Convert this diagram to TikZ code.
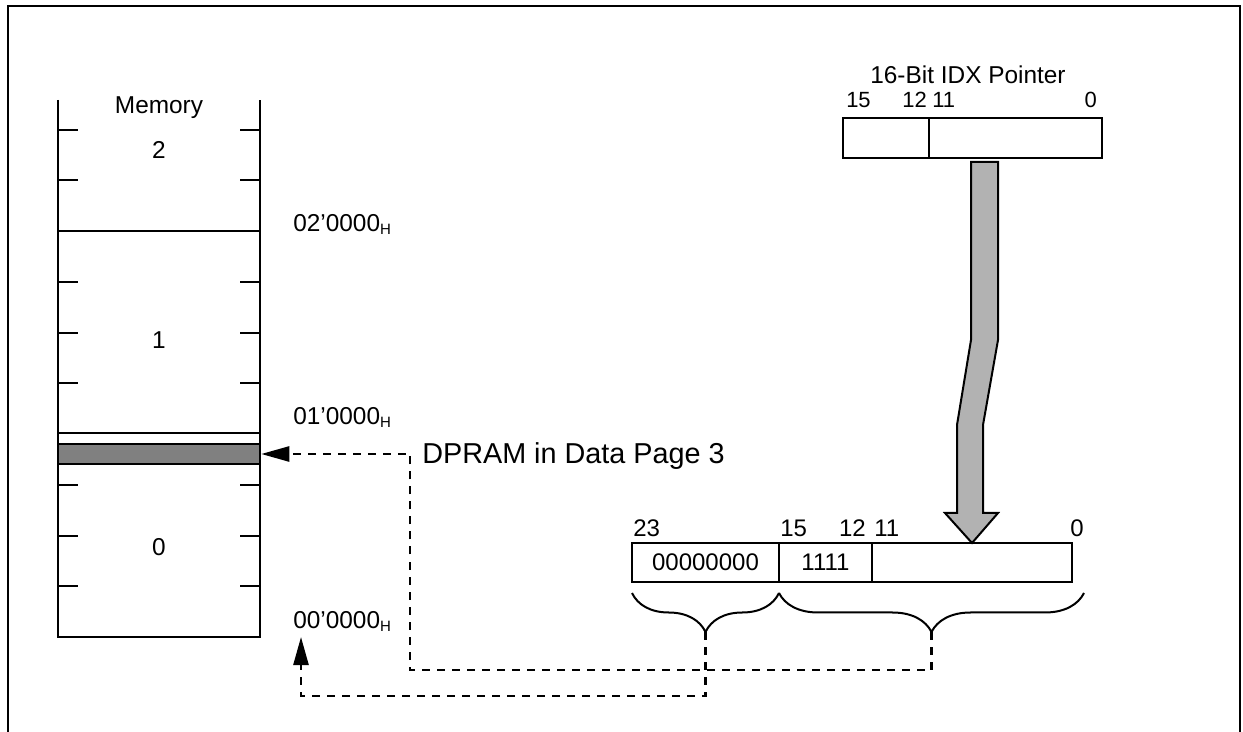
\documentclass[tikz,border=0pt]{standalone}
\usepackage{fontspec}
\setmainfont{Liberation Sans}
\usetikzlibrary{arrows.meta,decorations.pathreplacing}

\newcommand{\hsub}{\raisebox{-1.5pt}{\fontsize{7.5}{8}\selectfont H}}

\begin{document}
\begin{tikzpicture}[x=0.5pt,y=-0.5pt,line width=1.25pt,
    txt/.style={font=\fontsize{12.2}{14}\selectfont,inner sep=0pt},
    bitno/.style={font=\fontsize{12}{14}\selectfont,inner sep=0pt},
    bitsm/.style={font=\fontsize{11}{13}\selectfont,inner sep=0pt},
    reg/.style={draw,rectangle,inner sep=0pt,outer sep=0pt,minimum height=20pt,font=\fontsize{12}{14}\selectfont},
    brc/.style={decorate,decoration={brace,mirror,amplitude=19.5pt}},
    dashln/.style={dash pattern=on 4pt off 3.5pt},
    tip/.style={-{Triangle[length=14pt,width=7.5pt]}}]
  \useasboundingbox (0,0) rectangle (1243,732);
  % outer frame
  \draw[line width=1.4pt] (8,732) -- (8,6) -- (1240,6) -- (1240,732);

  % memory column
  \draw (58,100) -- (58,637) -- (260,637) -- (260,100);
  \draw (58,231) -- (260,231);
  \draw (58,433) -- (260,433);
  \foreach \y in {130,180,282,333,383,485,536,586}
    \draw (58,\y) -- (78,\y) (240,\y) -- (260,\y);
  \node[draw,fill=black!50,minimum width=101pt,minimum height=10pt,inner sep=0pt] (band) at (159,454) {};
  \node[txt] (memlbl) at (159,108) {Memory};
  \node[txt] (pg2) at (159,150) {2};
  \node[txt] (pg1) at (159,340) {1};
  \node[txt] (pg0) at (159,547) {0};
  \node[txt,anchor=west] (a2) at (292,224) {02’0000\hsub};
  \node[txt,anchor=west] (a1) at (292,417) {01’0000\hsub};
  \node[txt,anchor=west] (a0) at (292,621) {00’0000\hsub};

  % 16-bit pointer
  \node[txt] (idxname) at (968,75) {16-Bit IDX Pointer};
  \node[reg,minimum width=43pt] (idxhi) at (886,138) {};
  \node[reg,minimum width=86.5pt,anchor=west] (idxlo) at (idxhi.east) {};
  \node[bitsm,anchor=base west] (t15) at ([shift={(2,-10)}]idxhi.north west) {15};
  \node[bitsm,anchor=base east] (t12) at ([shift={(-1,-10)}]idxhi.north east) {12};
  \node[bitsm,anchor=base west] (t11) at ([shift={(2,-10)}]idxlo.north west) {11};
  \node[bitsm,anchor=base east] (t0) at ([shift={(-4,-10)}]idxlo.north east) {0};

  % wide arrow
  \draw[line width=1pt,fill=black!30] (971,162) -- (998,162) -- (998,340) -- (983,425) -- (983,513)
    -- (998,513) -- (972,543) -- (945,513) -- (957,513) -- (957,425) -- (971,340) -- cycle;

  % 24-bit address
  \node[reg,minimum width=73.5pt,minimum height=19.5pt] (seghi) at (705.5,562.5) {00000000};
  \node[reg,minimum width=46.5pt,minimum height=19.5pt,anchor=west] (segmid) at (seghi.east) {1111};
  \node[reg,minimum width=100pt,minimum height=19.5pt,anchor=west] (seglo) at (segmid.east) {};
  \node[bitno,anchor=base west] (b23) at ([shift={(0,-6)}]seghi.north west) {23};
  \node[bitno,anchor=base west] (b15) at ([shift={(0,-6)}]segmid.north west) {15};
  \node[bitno,anchor=base east] (b12) at ([shift={(-5,-6)}]segmid.north east) {12};
  \node[bitno,anchor=base west] (b11) at ([shift={(1,-6)}]seglo.north west) {11};
  \node[bitno,anchor=base east] (b0) at ([shift={(13,-6)}]seglo.north east) {0};

  \draw[brc,line width=1pt] ([yshift=-5.5pt]seghi.south west) -- ([yshift=-5.5pt]seghi.south east)
    coordinate[midway,yshift=-19.5pt] (ltip);
  \draw[brc,line width=1pt] ([yshift=-5.5pt]segmid.south west) -- ([xshift=6pt,yshift=-5.5pt]seglo.south east)
    coordinate[midway,yshift=-19.5pt] (rtip);

  % dashed connectors
  \coordinate (turn1) at (410,670);
  \coordinate (turn2) at (301,696);
  \coordinate (base0) at (301,637);
  \draw[dashln,tip] (rtip) |- (turn1) |- (band.east);
  \draw[dashln,tip] (ltip) |- (turn2) -- (base0);
  \node[font=\fontsize{14.4}{16}\selectfont,inner sep=0pt,anchor=west] (dpram) at (421,456) {DPRAM in Data Page 3};
\end{tikzpicture}
\end{document}
